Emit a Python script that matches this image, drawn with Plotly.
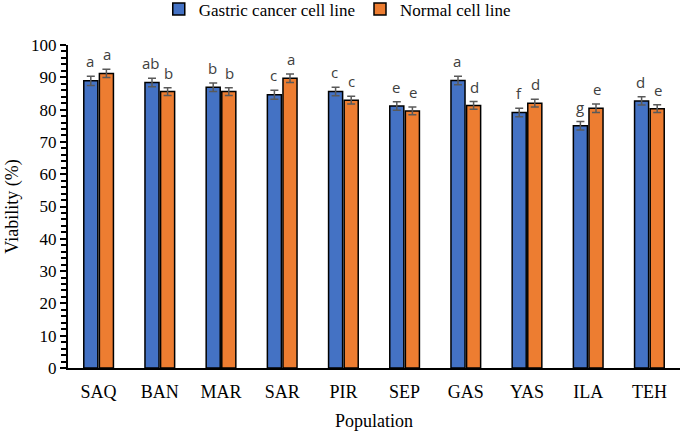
import plotly.graph_objects as go

populations = ["SAQ", "BAN", "MAR", "SAR", "PIR", "SEP", "GAS", "YAS", "ILA", "TEH"]
gastric = [88.9, 88.4, 86.9, 84.6, 85.6, 81.1, 89.0, 79.1, 75.0, 82.7]
gastric_err = [1.4, 1.3, 1.3, 1.4, 1.3, 1.3, 1.3, 1.3, 1.3, 1.3]
gastric_letters = ["a", "ab", "b", "c", "c", "e", "a", "f", "g", "d"]
normal = [91.2, 85.6, 85.6, 89.7, 82.9, 79.6, 81.3, 82.0, 80.4, 80.3]
normal_err = [1.3, 1.2, 1.2, 1.3, 1.2, 1.2, 1.2, 1.2, 1.3, 1.2]
normal_letters = ["a", "b", "b", "a", "c", "e", "d", "d", "e", "e"]

serif = "Times New Roman, Liberation Serif, serif"

fig = go.Figure()
for name, vals, errs, col in [
    ("Gastric cancer cell line", gastric, gastric_err, "#4472C4"),
    ("Normal cell line", normal, normal_err, "#ED7D31"),
]:
    fig.add_trace(go.Bar(
        x=populations, y=vals, name=name,
        marker=dict(color=col, line=dict(color="black", width=1.5)),
        error_y=dict(type="data", array=errs, color="#595959", thickness=1.5, width=4),
    ))

# significance letters above the error bars
for vals, errs, letters, shift in [
    (gastric, gastric_err, gastric_letters, -8.5),
    (normal, normal_err, normal_letters, 8.5),
]:
    for p, v, e, t in zip(populations, vals, errs, letters):
        fig.add_annotation(x=p, y=v + e, text=t, showarrow=False, xshift=shift,
                           yanchor="bottom", yshift=3,
                           font=dict(family="Open Sans", size=15, color="#404040"))

fig.update_layout(
    width=685, height=435,
    margin=dict(l=68, r=5, t=45, b=67, autoexpand=False),
    paper_bgcolor="white", plot_bgcolor="white",
    barmode="group", bargap=0.49, bargroupgap=0.1,
    font=dict(family=serif, color="black"),
    legend=dict(orientation="h", x=0.44, xanchor="center", y=1.11, yanchor="middle",
                font=dict(family=serif, size=17, color="black"),
                itemwidth=30),
)
fig.update_xaxes(
    showline=True, linecolor="black", linewidth=2, ticks="",
    automargin=False, ticklabelstandoff=6,
    tickfont=dict(family=serif, size=18),
    title=dict(text="Population", font=dict(family=serif, size=18), standoff=14),
)
fig.update_yaxes(
    range=[0, 100], dtick=10, showgrid=False, zeroline=False,
    showline=True, linecolor="black", linewidth=2, automargin=False,
    ticks="outside", ticklen=6, tickwidth=1.5, tickcolor="black",
    minor=dict(dtick=2, ticks="outside", ticklen=5, tickwidth=1.5, tickcolor="black"),
    tickfont=dict(family=serif, size=17),
    title=dict(text="Viability (%)", font=dict(family=serif, size=18), standoff=8),
)

# the page has a default body margin; drop it so the figure sits at the window corner
fig.write_html("out.html", config={"displayModeBar": False},
               post_script="document.body.style.margin='0';")
